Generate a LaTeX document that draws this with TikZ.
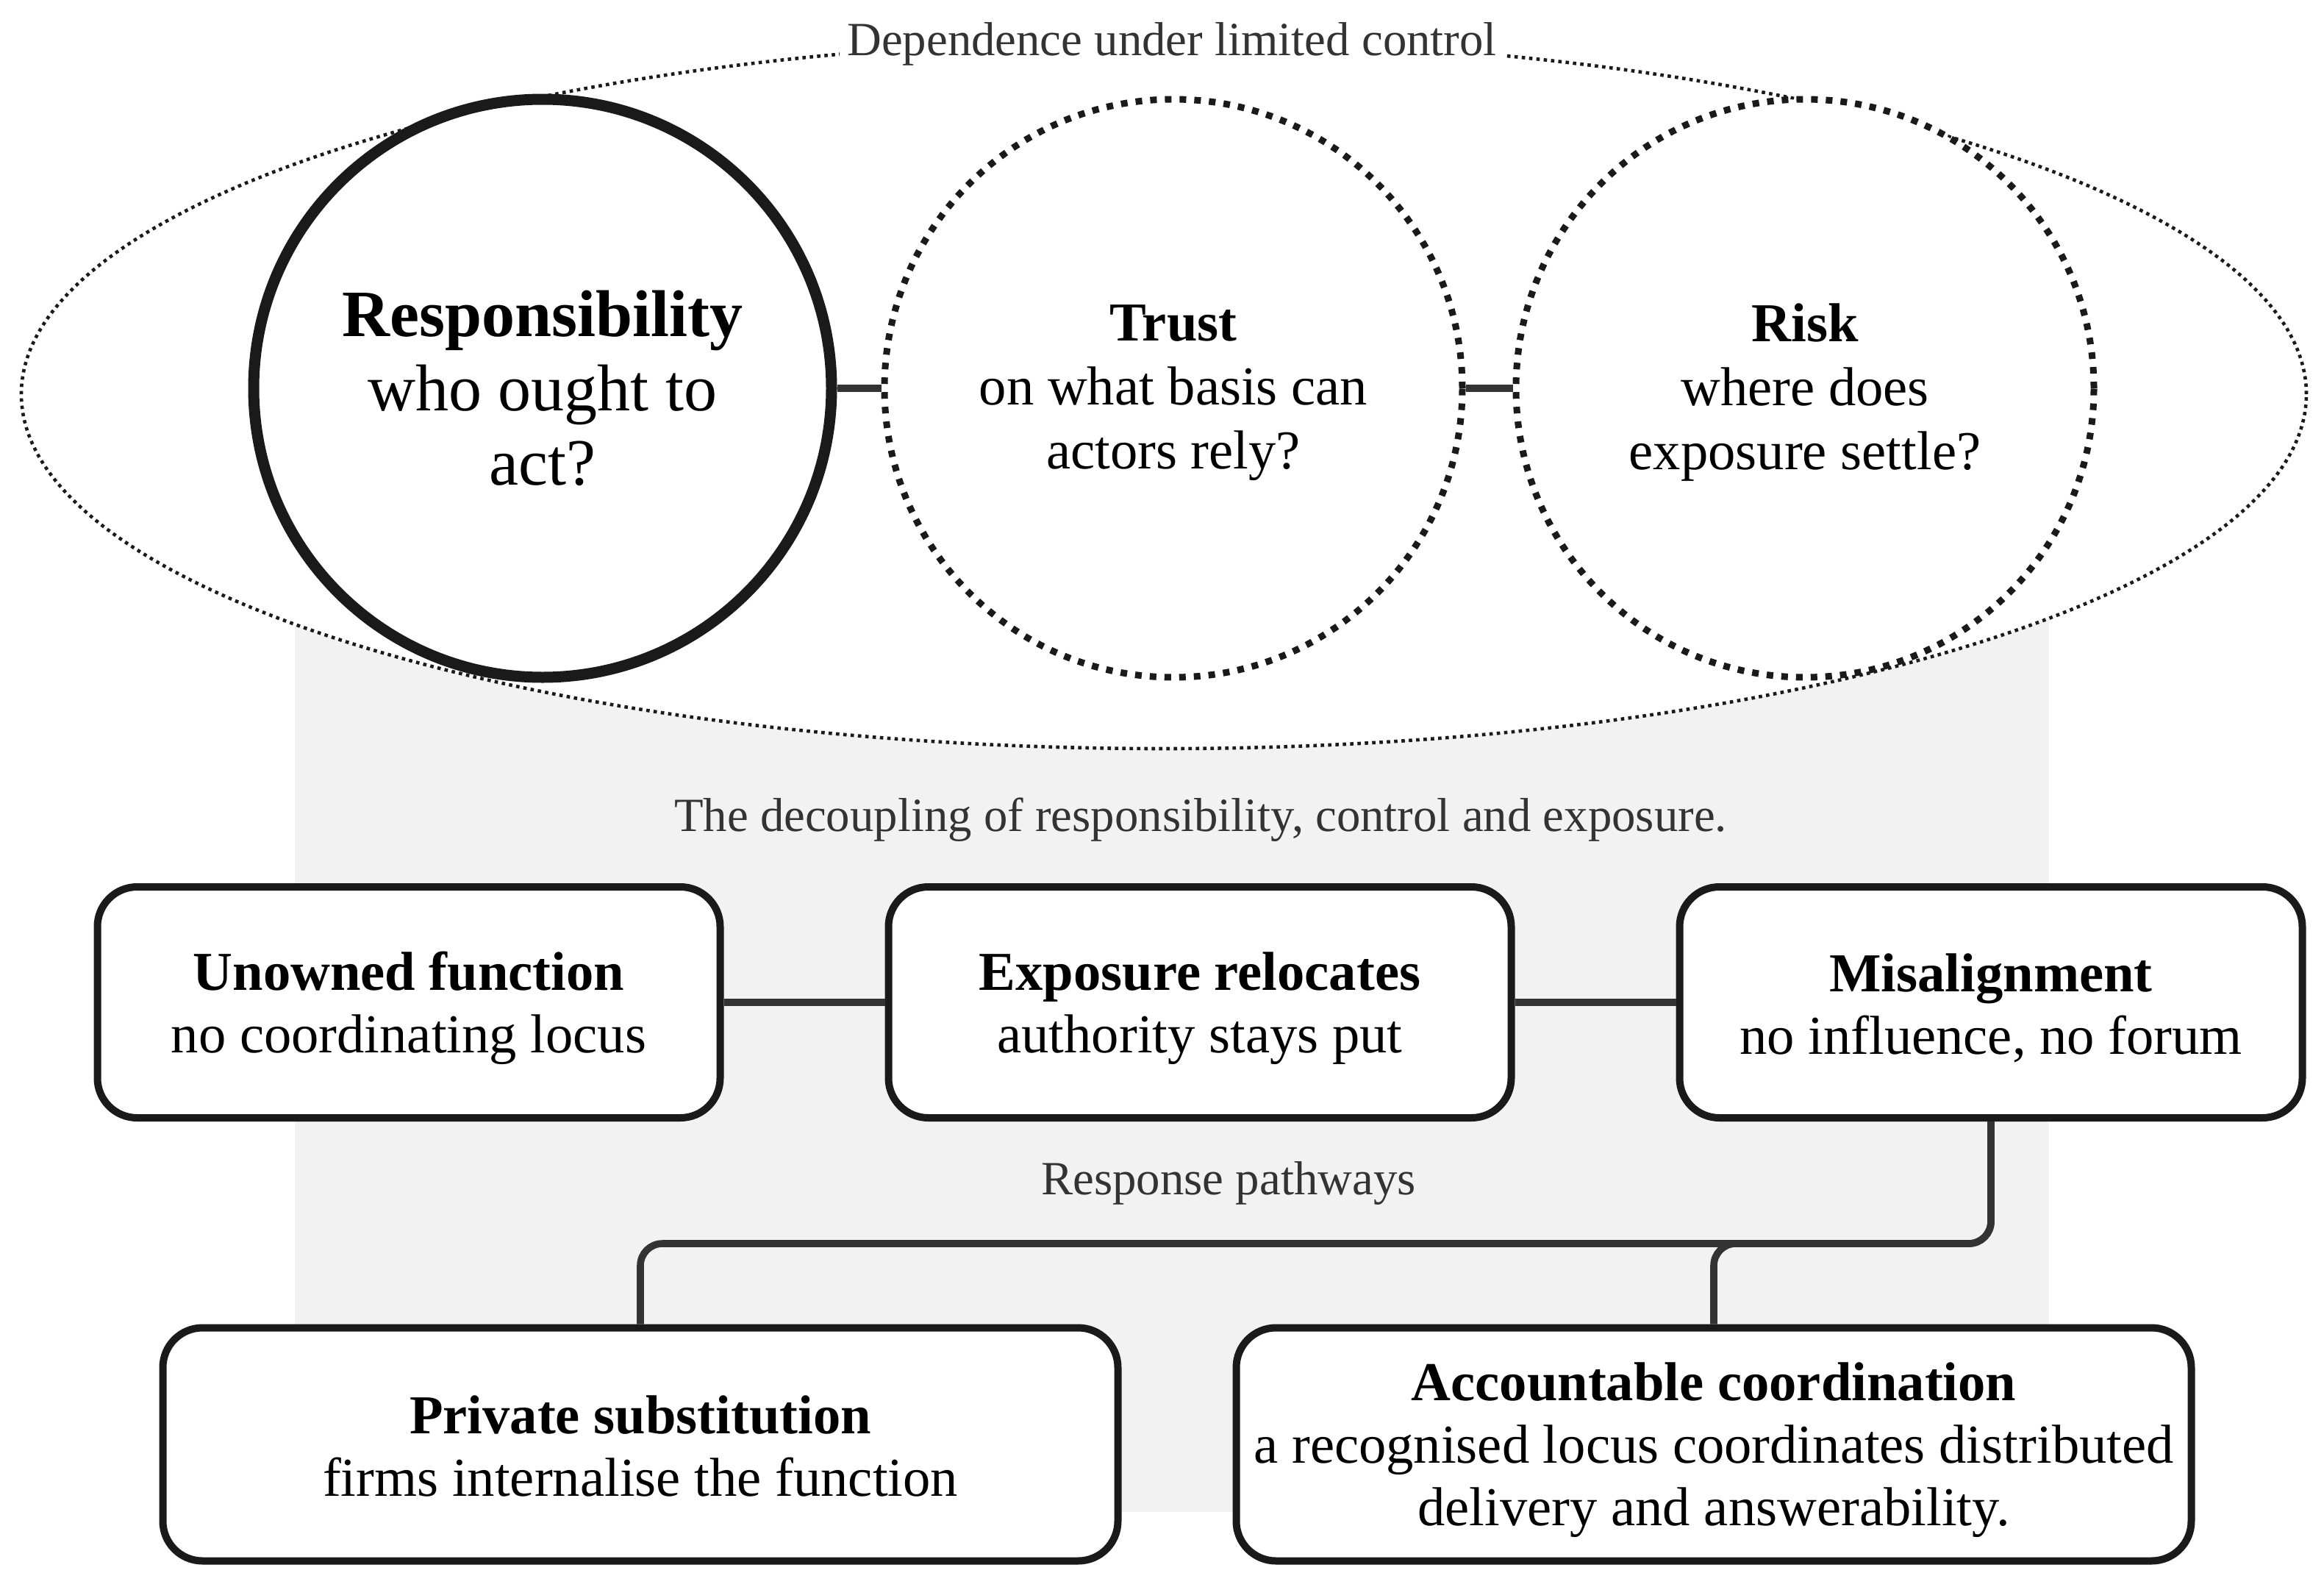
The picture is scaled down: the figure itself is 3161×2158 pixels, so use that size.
\documentclass[tikz,border=0pt]{standalone}
\usepackage{fontspec}
\setmainfont{Liberation Serif}
\definecolor{ink}{HTML}{1A1A1A}
\definecolor{conncol}{HTML}{333333}
\definecolor{labcol}{HTML}{333333}
\definecolor{panel}{HTML}{F2F2F2}
\tikzset{
  bigcirc/.style={circle, minimum size=393pt, inner sep=0pt, fill=white, align=center, text=black},
  solidcirc/.style={bigcirc, draw=ink, line width=7.5pt},
  dotcirc/.style={bigcirc, draw=ink, line width=4.5pt, dash pattern=on 4.5pt off 5.5pt},
  bigtext/.style={align=center, text=black, inner sep=0pt, font=\fontsize{45}{50.5}\selectfont},
  midtext/.style={align=center, text=black, inner sep=0pt, font=\fontsize{37.3}{43.5}\selectfont},
  conn/.style={draw=conncol, line width=4.8pt},
  boxnode/.style={rectangle, rounded corners=27pt, draw=ink, line width=5pt, fill=white},
  boxtext/.style={align=center, text=black, inner sep=0pt, font=\fontsize{37.3}{42.5}\selectfont},
  toprow/.style={boxnode, minimum width=423.5pt, minimum height=157pt},
  botrow/.style={boxnode, minimum width=649.5pt, minimum height=158.5pt},
  lab/.style={text=labcol, font=\fontsize{32.4}{38}\selectfont, inner sep=0pt},
  envelope/.style={draw=ink, line width=2.3pt, dash pattern=on 2.3pt off 2.7pt, fill=white}
}
\begin{document}
\begin{tikzpicture}[x=0.5pt, y=-0.5pt]
\useasboundingbox (0,0) rectangle (3161,2158);
% background panel
\fill[panel] (401,806) rectangle (2787,2056);
% enclosing ellipse
\draw[envelope] (1583,536) ellipse [x radius=777pt, y radius=241pt];
\node[lab, fill=white, inner xsep=5pt, inner ysep=3pt] (title) at (1594,60) {Dependence under limited control};
% circles
\node[solidcirc] (resp) at (738,528) {};
\node[dotcirc] (trust) at (1596,528) {};
\node[dotcirc] (risk) at (2455,528) {};
\node[bigtext] (resptxt) at (resp.center) {\textbf{Responsibility}\\who ought to\\act?};
\node[midtext] (trusttxt) at ([yshift=-3pt]trust.center) {\textbf{Trust}\\on what basis can\\actors rely?};
\node[midtext] (risktxt) at ([yshift=-3pt]risk.center) {\textbf{Risk}\\where does\\exposure settle?};
\draw[conn] (resp.east) -- (trust.west);
\draw[conn] (trust.east) -- (risk.west);
% caption
\node[lab] (decoup) at (1633,1115) {The decoupling of responsibility, control and exposure.};
% top row boxes
\node[toprow] (unowned) at (556,1363) {};
\node[toprow] (expo) at (1632,1363) {};
\node[toprow] (mis) at (2708,1363) {};
\node[boxtext] (unownedtxt) at ([yshift=-4pt]unowned.center) {\textbf{Unowned function}\\no coordinating locus};
\node[boxtext] (expotxt) at ([yshift=-4pt]expo.center) {\textbf{Exposure relocates}\\authority stays put};
\node[boxtext] (mistxt) at ([yshift=-4pt]mis.center) {\textbf{Misalignment}\\no influence, no forum};
\draw[conn] (unowned.east) -- (expo.west);
\draw[conn] (expo.east) -- (mis.west);
\node[lab] (pathways) at (1671,1609) {Response pathways};
% bottom row boxes
\node[botrow] (priv) at (871,1964) {};
\node[botrow] (acc) at (2331,1964) {};
\node[boxtext] (privtxt) at ([yshift=-1pt]priv.center) {\textbf{Private substitution}\\firms internalise the function};
\node[boxtext] (acctxt) at ([yshift=-4pt]acc.center) {\textbf{Accountable coordination}\\a recognised locus coordinates distributed\\delivery and answerability.};
\coordinate (hub) at (2708,1691);
\draw[conn, rounded corners=15pt] (mis.south) |- (priv.north |- hub) -- (priv.north);
\draw[conn, rounded corners=15pt] (mis.south) |- (acc.north |- hub) -- (acc.north);
\end{tikzpicture}
\end{document}
